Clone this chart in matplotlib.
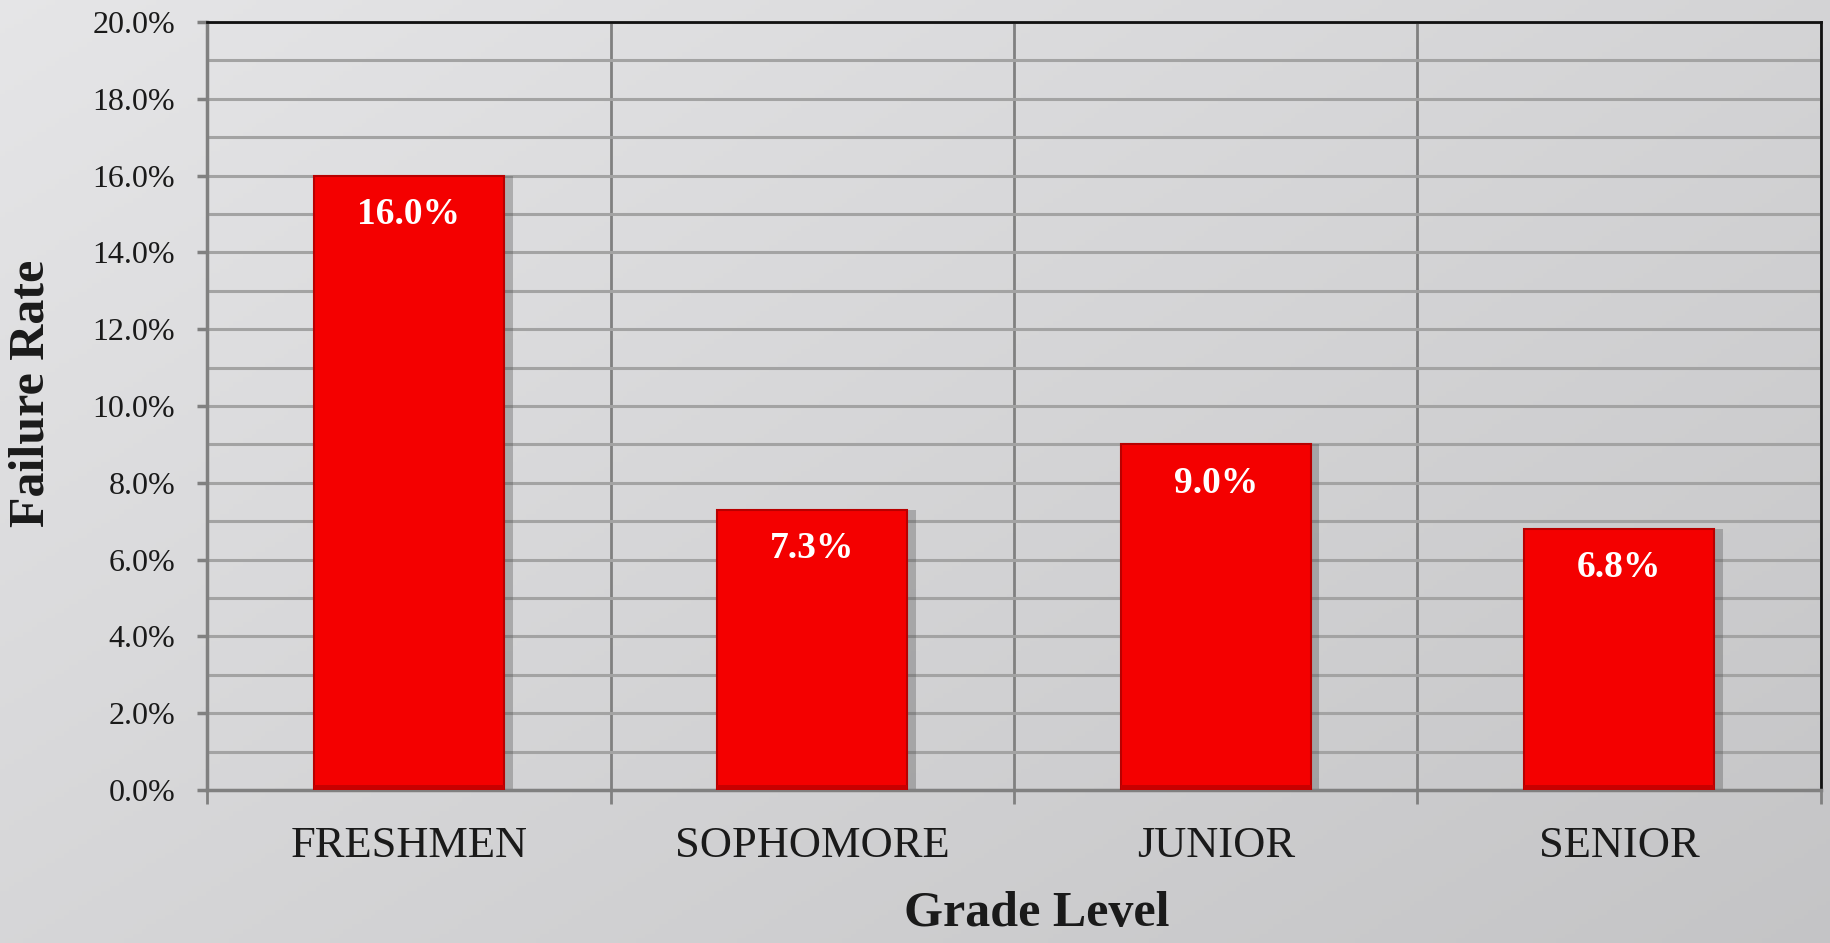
import numpy as np
import matplotlib
matplotlib.use("Agg")
import matplotlib.pyplot as plt
from matplotlib.ticker import MultipleLocator, FixedLocator, PercentFormatter

categories = ["FRESHMEN", "SOPHOMORE", "JUNIOR", "SENIOR"]
failure_rate = [16.0, 7.3, 9.0, 6.8]
value_labels = ["16.0%", "7.3%", "9.0%", "6.8%"]

plt.rcParams['font.family'] = ['Liberation Serif', 'DejaVu Serif']

fig = plt.figure(figsize=(18.31, 9.43), dpi=100)

# background gradient
bg = fig.add_axes([0, 0, 1, 1], zorder=-10)
yy, xx = np.mgrid[0:1:200j, 0:1:400j]
grad = 0.90 - 0.07 * xx - 0.06 * yy
img = np.dstack([grad, grad, grad * 1.005 + 0.003])
bg.imshow(np.clip(img, 0, 1), aspect='auto', extent=[0, 1, 0, 1], origin='upper')
bg.axis('off')

ax = fig.add_axes([0.1131, 0.1622, 0.8814, 0.8145])
ax.set_facecolor('none')
x = np.arange(len(categories))
w = 0.47

# shadow
ax.bar(x + 0.022, failure_rate, width=w, color='#555555', alpha=0.35, zorder=2)
bars = ax.bar(x, failure_rate, width=w, color='#f40000', edgecolor='#b80000',
              linewidth=1.5, zorder=3)
# subtle bevel at bottom
ax.bar(x, [0.12] * len(x), width=w, color='#c80000', zorder=4)

for xi, v, lab in zip(x, failure_rate, value_labels):
    ax.annotate(lab, (xi, v), xytext=(0, -28), textcoords='offset points',
                ha='center', va='center', color='white', fontsize=27,
                fontweight='bold', zorder=5)

ax.set_xlim(-0.5, 3.5)
ax.set_ylim(0, 20)
ax.yaxis.set_major_locator(MultipleLocator(2))
ax.yaxis.set_minor_locator(MultipleLocator(1))
ax.yaxis.set_major_formatter(PercentFormatter(decimals=1))
ax.grid(axis='y', which='both', color='#a3a3a3', linewidth=2.2, zorder=1)

ax.xaxis.set_major_locator(FixedLocator([-0.5, 0.5, 1.5, 2.5, 3.5]))
ax.xaxis.set_minor_locator(FixedLocator(x))
ax.set_xticklabels([], minor=False)
ax.set_xticks(x, categories, minor=True)
ax.grid(axis='x', which='major', color='#808080', linewidth=2, zorder=1)

ax.tick_params(axis='x', which='major', length=10, width=2, color='#808080', direction='out')
ax.tick_params(axis='x', which='minor', length=0, pad=26, labelsize=32, labelcolor='#1a1a1a')
ax.tick_params(axis='y', which='major', length=7, width=2.5, color='#808080', pad=16,
               labelsize=23, labelcolor='#1a1a1a')
ax.tick_params(axis='y', which='minor', length=0)

for s in ['left', 'bottom']:
    ax.spines[s].set_color('#808080')
    ax.spines[s].set_linewidth(2.5)
for s in ['top', 'right']:
    ax.spines[s].set_color('#111111')
    ax.spines[s].set_linewidth(2)

fig.text(0.566, 0.006, "Grade Level", ha='center', va='bottom', fontsize=36,
         fontweight='bold', color='#1a1a1a')
fig.text(0.017, 0.583, "Failure Rate", ha='center', va='center', rotation=90,
         fontsize=36, fontweight='bold', color='#1a1a1a')

fig.savefig("out.png", dpi=100)
